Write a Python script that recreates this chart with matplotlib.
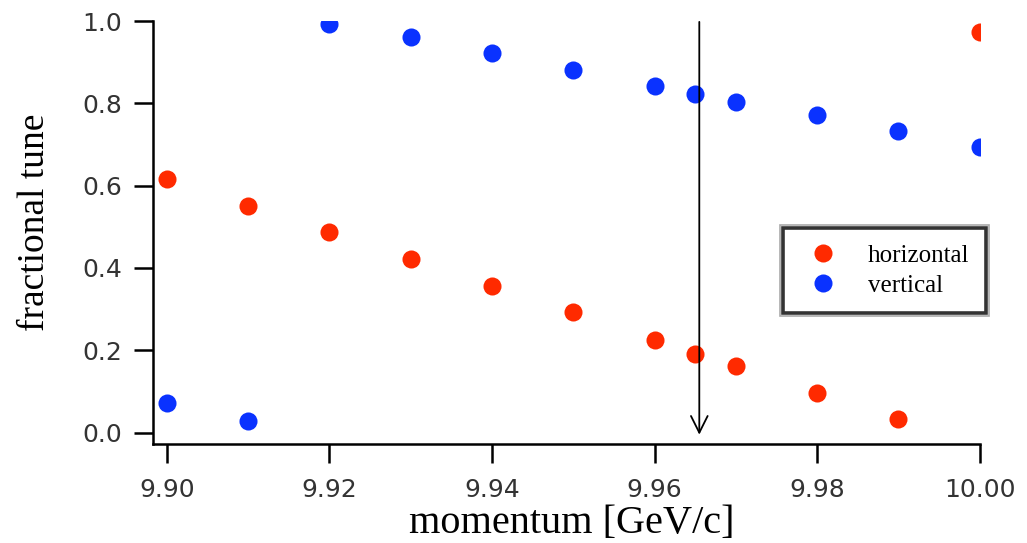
import matplotlib
matplotlib.use("Agg")
import matplotlib.pyplot as plt
from matplotlib.patches import Rectangle

momentum = [9.90, 9.91, 9.92, 9.93, 9.94, 9.95, 9.96, 9.965, 9.97, 9.98, 9.99, 10.00]
horizontal = [0.616, 0.550, 0.487, 0.421, 0.355, 0.292, 0.226, 0.192, 0.161, 0.095, 0.032, 0.973]
vertical = [0.071, 0.029, 0.993, 0.961, 0.922, 0.881, 0.842, 0.822, 0.803, 0.771, 0.732, 0.693]
arrow_x = 9.9655
xticks = [9.90, 9.92, 9.94, 9.96, 9.98, 10.00]
yticks = [0.0, 0.2, 0.4, 0.6, 0.8, 1.0]

fig = plt.figure(figsize=(10.27, 5.43), dpi=100)
ax = fig.add_axes([0.149, 0.183, 0.805, 0.778])

ax.plot(momentum, horizontal, 'o', color='#ff2a00', markersize=13, markeredgewidth=0, label='horizontal')
ax.plot(momentum, vertical, 'o', color='#0a32ff', markersize=13, markeredgewidth=0, label='vertical')

ax.annotate('', xy=(arrow_x, -0.012), xytext=(arrow_x, 1.005),
            arrowprops=dict(arrowstyle='->', color='black', lw=1.3, mutation_scale=30),
            annotation_clip=False)

ax.set_xlim(9.8983, 10.0)
ax.set_ylim(-0.027, 1.0)
ax.set_xticks(xticks)
ax.set_xticklabels(['%.2f' % v for v in xticks])
ax.set_yticks(yticks)
ax.set_yticklabels(['%.1f' % v for v in yticks])

for s in ['top', 'right']:
    ax.spines[s].set_visible(False)
for s in ['left', 'bottom']:
    ax.spines[s].set_linewidth(1.8)
ax.tick_params(axis='both', direction='out', length=14, width=1.8, labelsize=18,
               labelcolor='#333333')
ax.tick_params(axis='y', pad=8)
ax.tick_params(axis='x', pad=11)

ax.set_xlabel('momentum [GeV/c]', family='Liberation Serif', fontsize=29, va='center')
ax.xaxis.set_label_coords(0.507, -0.19)
ax.set_ylabel('fractional tune', family='Liberation Serif', fontsize=27, va='center')
ax.yaxis.set_label_coords(-0.143, 0.525)

leg = ax.legend(loc='upper left', bbox_to_anchor=(0.762, 0.511), borderaxespad=0,
                frameon=True, fancybox=False,
                prop={'family': 'Liberation Serif', 'size': 18},
                handletextpad=0.85, borderpad=0.65, labelspacing=0.3, handlelength=1.9)
leg.get_frame().set_edgecolor('black')
leg.get_frame().set_linewidth(2.6)

fig.canvas.draw()
bb = leg.get_window_extent().transformed(fig.transFigure.inverted())
dx, dy = 3 / 1027, 3 / 543
fig.patches.append(Rectangle((bb.x0 - dx, bb.y0 - dy), bb.width + 2 * dx, bb.height + 2 * dy,
                             transform=fig.transFigure, fill=False, edgecolor='#aaaaaa',
                             linewidth=1.2))

fig.savefig('out.png', dpi=100)
